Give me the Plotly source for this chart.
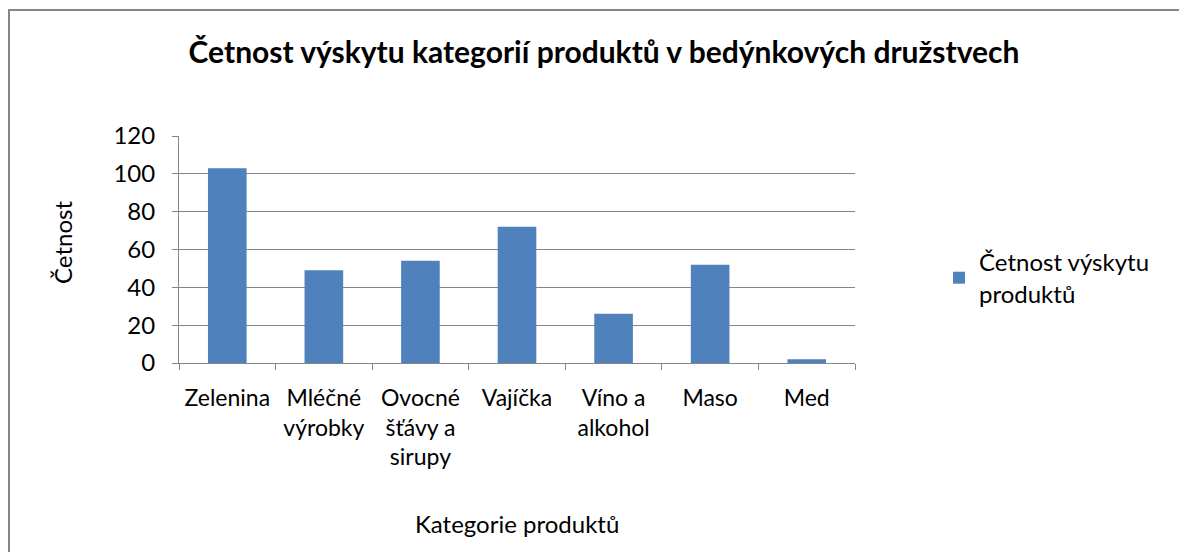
import plotly.graph_objects as go

categories = ["Zelenina", "Mléčné<br>výrobky", "Ovocné<br>šťávy a<br>sirupy", "Vajíčka",
              "Víno a<br>alkohol", "Maso", "Med"]
values = [103, 49, 54, 72, 26, 52, 2]
series_name = "Četnost výskytu<br>produktů"
y_ticks = [0, 20, 40, 60, 80, 100, 120]

FONT = "Lato, Carlito, Calibri, sans-serif"
GRID = "#868686"

FW, FH = 1187, 552
L, T, R, B = 171, 128, 847, 355
PW, PH = R - L, B - T


def px(x):
    return (x - L) / PW


def py(y):
    return (B - y) / PH


fig = go.Figure()
fig.add_trace(go.Bar(x=categories, y=values, name=series_name,
                     marker=dict(color="#4F81BD", line=dict(width=0)),
                     showlegend=True))

fig.update_layout(
    width=FW, height=FH,
    margin=dict(l=L, r=FW - R, t=T, b=FH - B),
    paper_bgcolor="white", plot_bgcolor="white",
    font=dict(family=FONT, size=24, color="black"),
    bargap=0.6,
    title=dict(text="<b>Četnost výskytu kategorií produktů v bedýnkových družstvech</b>",
               x=596 / FW, xanchor="center", y=1 - 44 / FH, yanchor="middle",
               font=dict(family=FONT, size=30, color="black")),
    showlegend=True,
    legend=dict(x=px(931), xanchor="left", y=py(270), yanchor="middle",
                font=dict(family=FONT, size=24), itemwidth=30, tracegroupgap=0,
                bgcolor="rgba(0,0,0,0)"),
    xaxis=dict(showline=True, linecolor=GRID, linewidth=1, ticks="outside",
               tickson="boundaries", ticklen=6, tickcolor=GRID, showgrid=False,
               tickangle=0, tickfont=dict(size=23), ticklabelstandoff=14),
    yaxis=dict(range=[0, 120], tickvals=y_ticks, showline=True, linecolor=GRID,
               linewidth=1, ticks="outside", ticklen=6, tickcolor=GRID,
               showgrid=True, gridcolor=GRID, gridwidth=1, zeroline=False,
               tickfont=dict(size=24), ticklabelstandoff=12),
    annotations=[
        dict(text="Četnost", xref="paper", yref="paper", x=px(54), y=py(235),
             textangle=-90, showarrow=False, xanchor="center", yanchor="middle",
             font=dict(size=24)),
        dict(text="Kategorie produktů", xref="paper", yref="paper", x=px(509), y=py(515),
             showarrow=False, xanchor="center", yanchor="middle", font=dict(size=24)),
    ],
    shapes=[
        dict(type="rect", xref="paper", yref="paper", x0=px(1), x1=px(FW - 1),
             y0=py(2), y1=py(FH - 1), line=dict(color=GRID, width=2),
             fillcolor="rgba(0,0,0,0)", layer="below"),
    ],
)

fig.write_html("out.html")
